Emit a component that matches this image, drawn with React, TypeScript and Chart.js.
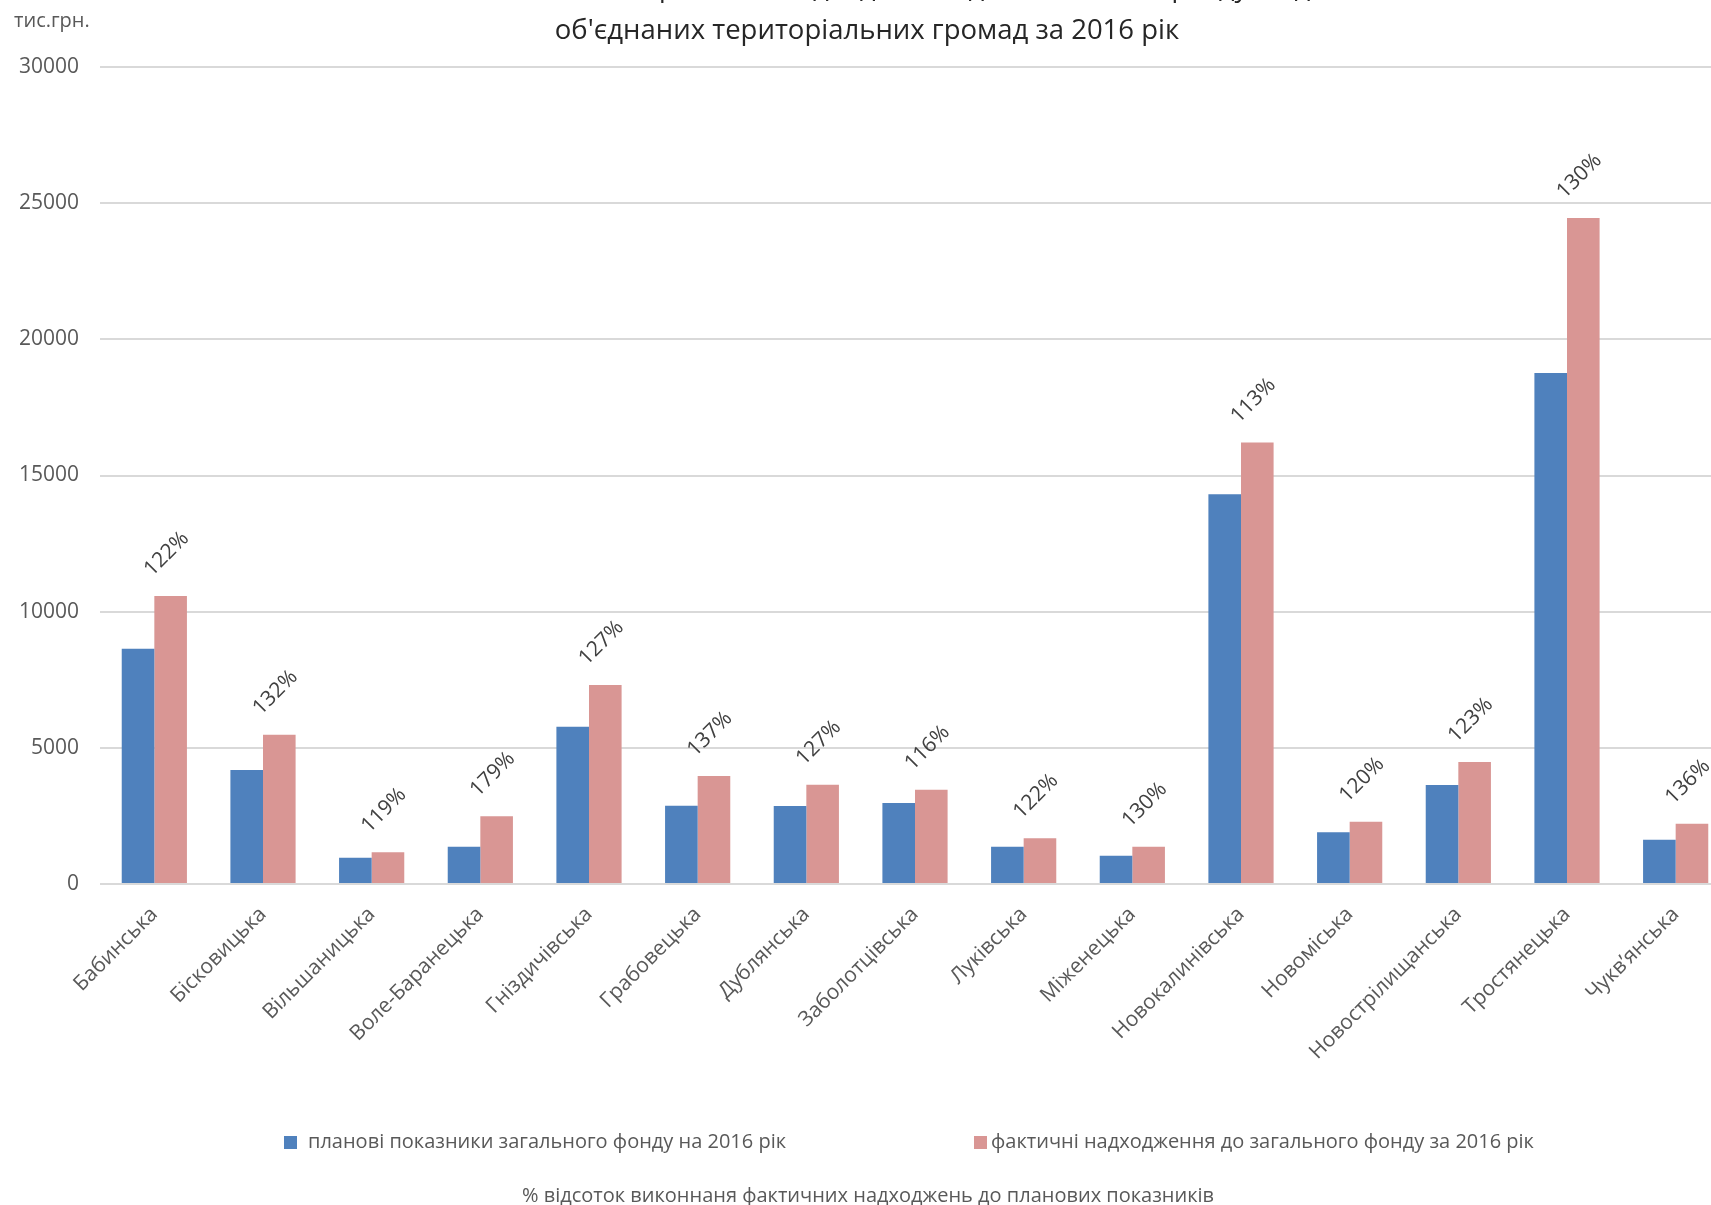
import React, { useEffect, useRef } from "react";
import { Chart, registerables } from "chart.js";

Chart.register(...registerables);

const categories = [
  "Бабинська",
  "Бісковицька",
  "Вільшаницька",
  "Воле-Баранецька",
  "Гніздичівська",
  "Грабовецька",
  "Дублянська",
  "Заболотцівська",
  "Луківська",
  "Міженецька",
  "Новокалинівська",
  "Новоміська",
  "Новострілищанська",
  "Тростянецька",
  "Чукв’янська",
];

const planValues = [8641, 4186, 967, 1371, 5777, 2877, 2864, 2975, 1370, 1040, 14309, 1901, 3637, 18768, 1626];
const factValues = [10575, 5483, 1163, 2485, 7307, 3963, 3642, 3457, 1679, 1365, 16210, 2284, 4477, 24452, 2211];
const percentLabels = ["122%", "132%", "119%", "179%", "127%", "137%", "127%", "116%", "122%", "130%", "113%", "120%", "123%", "130%", "136%"];

const yMin = 0;
const yMax = 30000;
const yStep = 5000;

const seriesNames = [
  "планові показники загального фонду на 2016 рік",
  "фактичні надходження до загального фонду за 2016 рік",
  "% відсоток виконнаня фактичних надходжень до планових показників",
];
const titleLines = [
  "Планові показники та фактичні надходження до загального фонду бюджетів",
  "об'єднаних територіальних громад за 2016 рік",
];
const unitLabel = "тис.грн.";

const FONT = "'Open Sans', 'Noto Sans', sans-serif";
const BLUE = "#4F81BD";
const PINK = "#D99694";
const TEXT = "#595959";

const overlayPlugin = {
  id: "overlay",
  afterDraw(chart: any) {
    const ctx = chart.ctx as CanvasRenderingContext2D;
    ctx.save();

    // title
    ctx.fillStyle = "#262626";
    ctx.font = `27.5px ${FONT}`;
    ctx.textAlign = "center";
    ctx.textBaseline = "alphabetic";
    ctx.fillText(titleLines[0], 867, -4);
    ctx.fillText(titleLines[1], 867, 39);

    // unit label
    ctx.fillStyle = TEXT;
    ctx.font = `20px ${FONT}`;
    ctx.textAlign = "left";
    ctx.textBaseline = "middle";
    ctx.fillText(unitLabel, 14, 21);

    // percent labels above pink bars
    const meta = chart.getDatasetMeta(1);
    ctx.fillStyle = "#404040";
    ctx.font = `21px ${FONT}`;
    ctx.textAlign = "center";
    ctx.textBaseline = "middle";
    meta.data.forEach((bar: any, i: number) => {
      const cx = bar.x - 4;
      const cy = bar.y - 42;
      ctx.save();
      ctx.translate(cx, cy);
      ctx.rotate(-Math.PI / 4);
      ctx.fillText(percentLabels[i], 0, 0);
      ctx.restore();
    });

    // legend
    ctx.font = `20px ${FONT}`;
    ctx.textAlign = "left";
    ctx.textBaseline = "middle";
    ctx.fillStyle = BLUE;
    ctx.fillRect(284, 1136, 13, 13);
    ctx.fillStyle = TEXT;
    ctx.fillText(seriesNames[0], 308, 1142.5);
    ctx.fillStyle = PINK;
    ctx.fillRect(974, 1136, 13, 13);
    ctx.fillStyle = TEXT;
    ctx.fillText(seriesNames[1], 991, 1142.5);
    ctx.textAlign = "center";
    ctx.fillText(seriesNames[2], 868, 1196);

    ctx.restore();
  },
};

export default function App() {
  const canvasRef = useRef<HTMLCanvasElement | null>(null);

  useEffect(() => {
    const canvas = canvasRef.current;
    if (!canvas) return;
    const chart = new Chart(canvas, {
      type: "bar",
      data: {
        labels: categories,
        datasets: [
          {
            label: seriesNames[0],
            data: planValues,
            backgroundColor: BLUE,
            borderWidth: 0,
            categoryPercentage: 0.6,
            barPercentage: 1,
          },
          {
            label: seriesNames[1],
            data: factValues,
            backgroundColor: PINK,
            borderWidth: 0,
            categoryPercentage: 0.6,
            barPercentage: 1,
          },
        ],
      },
      options: {
        responsive: false,
        animation: false,
        devicePixelRatio: 1,
        layout: { padding: { top: 67, right: 4, left: 0, bottom: 0 } },
        plugins: {
          legend: { display: false },
          title: { display: false },
          tooltip: { enabled: false },
        },
        scales: {
          x: {
            grid: { display: false },
            border: { display: false },
            ticks: {
              minRotation: 45,
              maxRotation: 45,
              autoSkip: false,
              color: TEXT,
              font: { family: FONT, size: 21 },
              padding: 10,
            },
            afterFit: (s: any) => {
              s.height = 321;
            },
          },
          y: {
            min: yMin,
            max: yMax,
            ticks: {
              stepSize: yStep,
              color: TEXT,
              font: { family: FONT, size: 21 },
              padding: 21,
              callback: (v: any) => String(v),
            },
            grid: { color: "#D9D9D9", lineWidth: 2, drawTicks: false },
            border: { display: false },
            afterFit: (s: any) => {
              s.width = 100;
            },
          },
        },
      },
      plugins: [overlayPlugin],
    });
    return () => chart.destroy();
  }, []);

  return (
    <div
      style={{
        position: "absolute",
        left: 0,
        top: 0,
        width: 1711,
        height: 1205,
        overflow: "hidden",
        background: "#fff",
      }}
    >
      <canvas ref={canvasRef} width={1734} height={1205} style={{ display: "block" }} />
    </div>
  );
}
